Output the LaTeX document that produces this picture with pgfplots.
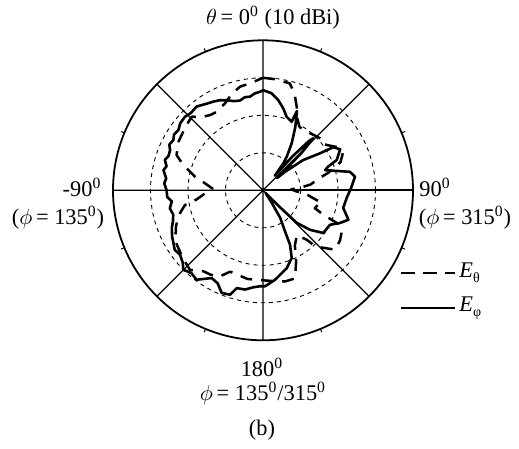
\documentclass[border=0pt]{standalone}
\usepackage{fontspec}
\setmainfont{Liberation Serif}
\usepackage{pgfplots}
\usepackage{pgfplotstable}
\pgfplotsset{compat=1.18}
\usepgfplotslibrary{polar}

% theta measured clockwise from top (deg), r in units where outer circle = 40 (10 dBi), 10 units per ring
\pgfplotstableread{
t r
0 26.7
5 26.0
9.6 24.4
13.9 22.5
17.8 20.6
22.7 19.8
23.2 23.0
27 19.0
31.4 14.7
35.2 11.0
37 9.0
39 5.0
41 12.0
43 18.0
44 19.3
46 14.0
47 8.0
49 5.0
50 7.7
53 13.4
57 18.1
58.5 22.0
62 23.3
67.6 21.3
70 18.5
72 17.4
78 23.7
81.6 24.8
88.5 23.5
95.3 22.4
102.4 21.9
109 24.1
113 22.3
117.2 20.1
125.3 19.7
130 16.4
134 12.5
135 6.0
136 1.0
145 4.0
148 8.7
151.8 12.4
153.6 16.2
157 19.6
163 21.7
172.4 24.1
178.8 25.6
181.8 25.6
185.7 26.0
190.3 26.9
195 27.0
197.5 29.2
201.9 29.5
206 27.6
210.3 27.1
216.6 29.7
221 29.2
225.1 30.0
228 28.8
232.2 28.0
236 28.4
239.6 27.7
243 27.2
247.6 26.3
251 25.4
254.8 24.8
259 25.3
263.1 24.5
266 25.6
270 25.7
274 26.4
277 26.0
281.5 27.1
284 26.5
287.2 27.4
290 26.8
293.4 27.0
296 27.8
299.3 27.4
302 28.0
305.5 27.7
309 28.4
313.3 28.6
317 28.2
321.6 28.5
326 27.7
330.7 27.1
334 26.7
338.1 25.9
342 25.0
345.6 24.7
349 25.3
352.1 25.2
355 25.9
358.3 26.3
360 26.7
}\Ephi

\pgfplotstableread{
t r
0 30.0
6 29.8
14 29.4
18 27.2
22 24.0
26 21.0
30 19.5
36.7 19.5
42.3 20.0
47.6 20.6
51.3 20.0
55 21.0
60 23.0
65 23.5
70 22.0
75 18.0
78 15.3
83 12.8
86 10.0
88 7.5
92 9.0
96 12.0
99 13.6
102 16.0
106 15.0
109 14.6
112 17.3
114 21.9
117.5 23.7
123 24.5
129.5 24.9
134 22.0
137 20.4
138.5 17.6
143 15.0
150 17.0
155 20.9
160 25.0
166 25.0
172 24.5
180 24.0
190 24.0
197 23.5
202 23.4
207 25.9
212 26.5
216.3 26.8
222.5 28.8
230 28.0
240 27.0
248 25.0
254.5 23.0
259.3 21.2
262 18.0
268 15.0
272 13.5
276.9 15.6
281.3 18.5
285 20.5
287.6 22.3
292.2 24.9
300 26.0
310 26.8
316 27.3
320 25.5
325 24.5
329.5 24.3
336.4 25.3
342 27.0
347.5 28.3
353 28.7
360 30.0
}\Etheta

\begin{document}
\fontsize{11.2}{13}\selectfont
\begin{tikzpicture}
\useasboundingbox (0pt,0pt) rectangle (259.5pt,-224.5pt);
\begin{polaraxis}[
  at={(131.5pt,-95.15pt)}, anchor=center,
  scale only axis, width=150pt, height=150pt,
  xmin=0, xmax=360, ymin=0, ymax=40,
  xtick={0,45,...,315}, xticklabels={},
  minor xtick={22.5,67.5,...,337.5},
  ytick={10,20,30}, yticklabels={},
  xmajorgrids, ymajorgrids,
  major x grid style={black, line width=0.65pt, solid},
  major y grid style={black, line width=0.45pt, dash pattern=on 2pt off 2pt},
  axis line style={black, line width=0.9pt},
  major tick length=0pt, minor tick length=1.8pt,
  minor tick style={black, line width=0.5pt},
  tick align=inside,
]
\addplot[black, line width=1.25pt, dash pattern=on 6pt off 4.5pt, line join=round]
  table[x expr={90-\thisrow{t}}, y=r] {\Etheta};
\addplot[black, line width=1.3pt, line join=round]
  table[x expr={90-\thisrow{t}}, y=r] {\Ephi};
\end{polaraxis}

\begin{scope}[x=0.5pt,y=-0.5pt]
% labels
\node at (273,18) {$\theta$\,= 0\textsuperscript{0} (10 dBi)};
\node at (435,187) {90\textsuperscript{0}};
\node at (465,218) {($\phi$\,= 315\textsuperscript{0})};
\node at (82,187) {-90\textsuperscript{0}};
\node at (58,218) {($\phi$\,= 135\textsuperscript{0})};
\node at (262,367) {180\textsuperscript{0}};
\node at (263,393) {$\phi$\,= 135\textsuperscript{0}/315\textsuperscript{0}};
\node at (262,430) {(b)};

% legend
\draw[black, line width=1.2pt, dash pattern=on 7pt off 4pt] (401,273) -- (455,273);
\node[anchor=west, inner sep=1pt] at (457,273) {\textit{E}\raisebox{-0.5ex}{\scriptsize θ}};
\draw[black, line width=1.2pt] (401,308) -- (455,308);
\node[anchor=west, inner sep=1pt] at (457,308) {\textit{E}\raisebox{-0.5ex}{\scriptsize φ}};
\end{scope}
\end{tikzpicture}
\end{document}
